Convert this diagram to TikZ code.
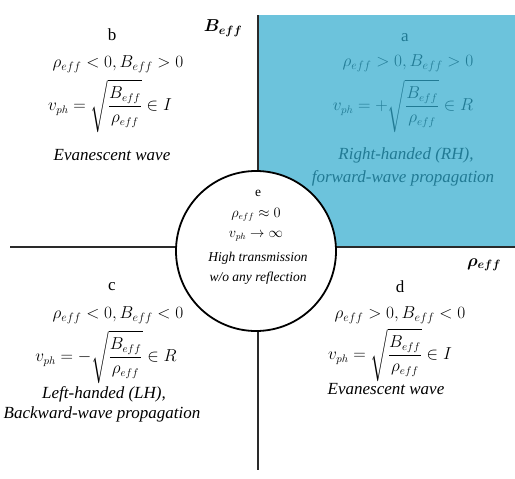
\documentclass[tikz,border=0pt]{standalone}
\usepackage{amsmath}
\usepackage{bm}
\usepackage{fontspec}
\setmainfont{Liberation Serif}
\definecolor{fillblue}{HTML}{6CC3DC}
\definecolor{tealtext}{HTML}{217A94}
\definecolor{axisgray}{HTML}{2A2A2A}
\begin{document}
\begin{tikzpicture}[x=1pt,y=-1pt,
  axisline/.style={draw=axisgray,line width=2.4pt},
  qtext/.style={font=\fontsize{17}{20}\selectfont,inner sep=0pt,align=center},
  ftext/.style={font=\fontsize{16}{19}\selectfont,inner sep=0pt,align=center},
  ctext/.style={font=\fontsize{13.5}{16}\selectfont,inner sep=0pt,align=center},
  axlabel/.style={font=\fontsize{18}{20}\selectfont,inner sep=0pt},
  bluetext/.style={text=tealtext}]
\useasboundingbox (0,0) rectangle (515,479);
\fill[fillblue] (258,15) rectangle (515,247);
\coordinate (vtop) at (258,15);
\coordinate (vbot) at (258,470);
\coordinate (hl) at (10,247);
\coordinate (hr) at (515,247);
\draw[axisline] (vtop) -- (vbot);
\draw[axisline] (hl) -- (hr);
\node[circle,draw=black,fill=white,line width=1.8pt,minimum size=160pt,inner sep=0pt] (ctr) at (256,251) {};
% axis labels
\node[axlabel] (blab) at (223,28) {$\bm{B_{eff}}$};
\node[axlabel] (rlab) at (484,265) {$\bm{\rho_{eff}}$};
% quadrant a
\node[qtext,bluetext] (a1) at (405,38) {a};
\node[qtext,bluetext] (a2) at (408,63) {$\rho_{eff} > 0, B_{eff} > 0$};
\node[ftext,bluetext] (a3) at (403,106) {$v_{ph} = +\sqrt{\dfrac{B_{eff}}{\rho_{eff}}} \in R$};
\node[qtext,bluetext] (a4) at (406,155) {\itshape Right-handed (RH),};
\node[qtext,bluetext] (a5) at (403,178) {\itshape forward-wave propagation};
% quadrant b
\node[qtext] (b1) at (112,35) {b};
\node[qtext] (b2) at (118,64) {$\rho_{eff} < 0, B_{eff} > 0$};
\node[ftext] (b3) at (110,106) {$v_{ph} = \sqrt{\dfrac{B_{eff}}{\rho_{eff}}} \in I$};
\node[qtext] (b4) at (112,155) {\itshape Evanescent wave};
% center
\node[ctext] (e1) at (258,193) {e};
\node[ctext] (e2) at (256,215) {$\rho_{eff} \approx 0$};
\node[ctext] (e3) at (256,236) {$v_{ph} \rightarrow \infty$};
\node[ctext] (e4) at (258,258) {\itshape High transmission};
\node[ctext] (e5) at (258,278) {\itshape w/o any reflection};
% quadrant c
\node[qtext] (c1) at (112,287) {c};
\node[qtext] (c2) at (118,315) {$\rho_{eff} < 0, B_{eff} < 0$};
\node[ftext] (c3) at (106,357) {$v_{ph} = -\sqrt{\dfrac{B_{eff}}{\rho_{eff}}} \in R$};
\node[qtext] (c4) at (104,394) {\itshape Left-handed (LH),};
\node[qtext] (c5) at (102,414) {\itshape Backward-wave propagation};
% quadrant d
\node[qtext] (d1) at (400,287) {d};
\node[qtext] (d2) at (400,315) {$\rho_{eff} > 0, B_{eff} < 0$};
\node[ftext] (d3) at (390,355) {$v_{ph} = \sqrt{\dfrac{B_{eff}}{\rho_{eff}}} \in I$};
\node[qtext] (d4) at (386,389) {\itshape Evanescent wave};
\end{tikzpicture}
\end{document}
